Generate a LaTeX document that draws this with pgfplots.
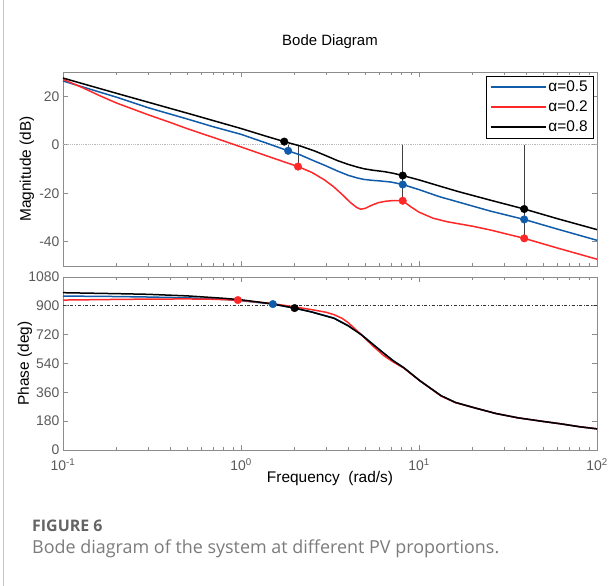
\documentclass[border=0pt]{standalone}
\usepackage{pgfplots}
\pgfplotsset{compat=1.18}
\usepackage{fontspec}
\setmainfont{Liberation Sans}
\newfontfamily\capfont{Open Sans}
\definecolor{mblue}{RGB}{16,92,170}
\definecolor{mred}{RGB}{255,40,40}
\definecolor{axgray}{RGB}{140,140,140}
\definecolor{tlgray}{RGB}{90,90,90}
\definecolor{capgray}{RGB}{100,100,100}
\pgfplotsset{every axis/.append style={
    scale only axis, width=534bp, anchor=south west,
    xmode=log, xmin=0.1, xmax=100,
    xtick={0.1,1,10,100},
    minor xtick={0.2,0.3,0.4,0.5,0.6,0.7,0.8,0.9,2,3,4,5,6,7,8,9,20,30,40,50,60,70,80,90},
    axis line style={axgray, line width=0.8bp},
    every tick/.style={axgray, line width=0.7bp},
    major tick length=5bp, minor tick length=3bp,
    tick align=inside,
    ticklabel style={text=tlgray, font=\fontsize{14}{16}\selectfont},
    label style={font=\fontsize{15.5}{18}\selectfont, text=black},
  }}
\begin{document}
\begin{tikzpicture}
\path[use as bounding box] (0,0) rectangle (612bp,586bp);
\draw[gray!45, line width=0.9bp] (3bp,0) -- (3bp,586bp);
% ---------- Magnitude ----------
\begin{axis}[at={(63bp,320bp)}, height=194bp,
  ymin=-50, ymax=30, ytick={-40,-20,0,20},
  /pgf/number format/assume math mode=true,
  xticklabels={},
  ylabel={Magnitude (dB)},
  ylabel style={at={(rel axis cs:0,0.5)}, anchor=center, yshift=36bp},
  title={Bode Diagram},
  title style={at={(rel axis cs:0.5,1)}, anchor=base, yshift=21bp, font=\fontsize{15}{18}\selectfont},
  legend style={at={(1,1)}, anchor=north east, xshift=-4bp, yshift=-4bp,
    draw=black, fill=white,
    font=\fontsize{15.5}{18}\selectfont, row sep=3.5bp,
    inner xsep=3bp, inner ysep=3bp},
  legend cell align=left,
  legend image code/.code={\draw[#1, line width=1.8bp] (0bp,0bp) -- (55bp,0bp);},
]
\addplot[gray!55, densely dotted, line width=0.8bp, forget plot] coordinates {(0.1,0) (100,0)};
\addplot[black!75, line width=0.6bp, forget plot] coordinates {(1.75,0) (1.75,1.3)};
\addplot[black!75, line width=0.6bp, forget plot] coordinates {(1.84,0) (1.84,-2.5)};
\addplot[black!75, line width=0.6bp, forget plot] coordinates {(2.09,0) (2.09,-9.0)};
\addplot[black!75, line width=0.6bp, forget plot] coordinates {(8.1,0) (8.1,-23.0)};
\addplot[black!75, line width=0.6bp, forget plot] coordinates {(39,0) (39,-38.6)};
\addplot[line width=1.5bp, mblue] coordinates {
(0.1,26.3) (0.2,19.6) (0.3,15.3) (0.5,10.6) (0.7,7.4) (1.0,4.3) (1.4,0.6) (1.84,-2.5)
(2.17,-4.3) (2.6,-6.8) (3.0,-8.7) (3.5,-10.9) (4.0,-12.6) (4.5,-13.7) (4.9,-14.3)
(5.5,-14.7) (6.0,-14.9) (7.0,-15.4) (8.1,-16.4) (10,-18.5) (13,-21.4) (16.6,-23.6)
(25,-27.3) (39,-30.8) (60,-34.8) (100,-39.4)};
\addlegendentry{α=0.5}
\addplot[line width=1.5bp, mred] coordinates {
(0.1,27.0) (0.13,23.4) (0.16,20.3) (0.2,17.2) (0.3,12.4) (0.4,9.2) (0.5,6.6) (0.7,3.0)
(1.0,-0.9) (1.5,-5.4) (2.09,-9.0) (2.5,-11.4) (2.93,-14.4) (3.3,-17.2) (3.7,-20.5)
(4.1,-23.7) (4.45,-25.8) (4.7,-26.6) (5.0,-26.2) (5.4,-25.0) (5.9,-23.9) (6.5,-23.3)
(7.2,-23.0) (8.1,-23.1) (9.0,-25.6) (10,-27.8) (12,-30.3) (14.5,-31.8) (20,-33.6)
(25,-35.1) (39,-38.6) (60,-42.6) (100,-47.2)};
\addlegendentry{α=0.2}
\addplot[line width=1.5bp, black] coordinates {
(0.1,27.5) (0.2,21.2) (0.5,13.0) (1.0,6.7) (1.4,3.4) (1.75,1.3) (2.17,-0.6)
(2.6,-2.6) (3.0,-4.5) (3.5,-6.6) (4.0,-8.1) (4.5,-9.2) (4.9,-9.9) (5.5,-10.5)
(6.4,-11.1) (7.2,-11.8) (8.1,-12.7) (10,-14.5) (13,-17.0) (16.6,-19.3) (25,-22.8)
(39,-26.5) (60,-30.5) (100,-35.0)};
\addlegendentry{α=0.8}
\addplot[only marks, mark=*, mark size=3.8bp, mblue, forget plot] coordinates {(1.84,-2.5) (8.1,-16.4) (39,-30.8)};
\addplot[only marks, mark=*, mark size=3.8bp, mred, forget plot] coordinates {(2.09,-9.0) (8.1,-23.1) (39,-38.6)};
\addplot[only marks, mark=*, mark size=3.8bp, black, forget plot] coordinates {(1.75,1.3) (8.1,-12.7) (39,-26.5)};
\end{axis}
% ---------- Phase ----------
\begin{axis}[at={(63bp,136bp)}, height=173bp,
  ymin=0, ymax=1080, ytick={0,180,360,540,720,900,1080},
  /pgf/number format/assume math mode=true,
  /pgf/number format/1000 sep={},
  xticklabels={10\textsuperscript{-1},10\textsuperscript{0},10\textsuperscript{1},10\textsuperscript{2}},
  xticklabel style={yshift=-5bp},
  ylabel={Phase (deg)},
  ylabel style={at={(rel axis cs:0,0.5)}, anchor=center, yshift=38bp},
  xlabel={Frequency\ \ (rad/s)},
  xlabel style={at={(rel axis cs:0.5,0)}, anchor=base, yshift=-33bp},
]
\addplot[black!80, dash dot, line width=0.7bp, forget plot] coordinates {(0.1,900) (100,900)};
\addplot[line width=1.5bp, mblue] coordinates {
(0.1,961) (0.2,958) (0.3,955) (0.5,950) (0.8,940) (1.0,932) (1.51,911) (2.0,885)
(2.5,862) (3.0,838) (3.33,824) (4.0,777) (4.72,723) (5.5,661) (6.36,603) (7.2,556)
(8.2,515) (10.1,433) (13.3,339) (16,297) (20.4,264) (27,228) (35.9,201) (50,178)
(62.9,163) (80,145) (100,132)};
\addplot[line width=1.5bp, mred] coordinates {
(0.1,936) (0.2,940) (0.3,942) (0.5,943) (0.7,941) (0.96,936) (1.5,914) (2.0,893)
(2.5,876) (3.0,860) (3.33,845) (3.7,822) (4.0,795) (4.72,722) (5.5,650) (6.36,588)
(7.2,548) (8.2,512) (10.1,433) (13.3,337) (16,296) (20.4,264) (27,228) (35.9,201)
(50,178) (62.9,163) (80,145) (100,132)};
\addplot[line width=1.5bp, black] coordinates {
(0.1,982) (0.2,976) (0.3,972) (0.5,962) (0.8,947) (1.0,938) (1.5,912) (2.0,886)
(2.5,861) (3.0,836) (3.33,822) (4.0,775) (4.72,721) (5.5,660) (6.36,603) (7.2,555)
(8.2,514) (10.1,433) (13.3,339) (16,297) (20.4,264) (27,228) (35.9,201) (50,178)
(62.9,163) (80,145) (100,132)};
\addplot[only marks, mark=*, mark size=3.8bp, mred] coordinates {(0.96,936)};
\addplot[only marks, mark=*, mark size=3.8bp, mblue] coordinates {(1.51,911)};
\addplot[only marks, mark=*, mark size=3.8bp, black] coordinates {(2.0,886)};
\end{axis}
% ---------- Caption ----------
\node[anchor=base west, inner sep=0, text=capgray, font=\capfont\bfseries\fontsize{16}{20}\selectfont] at (32bp,54bp) {FIGURE 6};
\node[anchor=base west, inner sep=0, text=capgray!85, font=\capfont\fontsize{18}{20}\selectfont] at (32bp,33bp) {Bode diagram of the system at different PV proportions.};
\end{tikzpicture}
\end{document}
